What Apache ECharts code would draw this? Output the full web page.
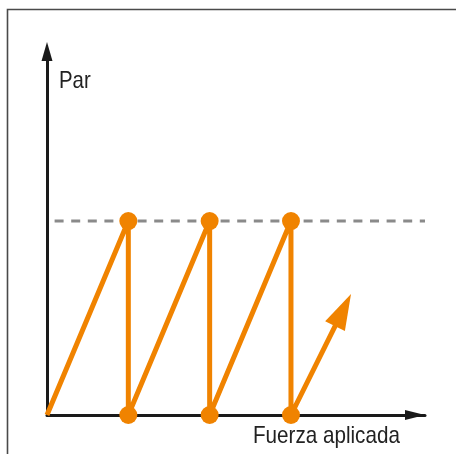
<!DOCTYPE html>
<html>
<head>
<meta charset="utf-8">
<script src="https://cdn.jsdelivr.net/npm/echarts@6/dist/echarts.min.js"></script>
<style>html,body{margin:0;padding:0;background:#fff;}#c{width:456px;height:454px;}</style>
</head>
<body>
<div id="c"></div>
<script>
// Sawtooth path: applied force (x) vs torque (y)
var sawX = [0, 1, 1, 2, 2, 3, 3, 3.64];
var sawY = [0, 1, 0, 1, 0, 1, 0, 0.541];
// Marked points (circles)
var dotX = [1, 1, 2, 2, 3, 3];
var dotY = [1, 0, 1, 0, 1, 0];
// Arrow head centre on the last segment
var arrowX = [3.64];
var arrowY = [0.541];
// Slip threshold (dashed)
var limitX = [0, 4.648];
var limitY = [1, 1];
var xAxisName = 'Fuerza aplicada';
var yAxisName = 'Par';

var ORANGE = '#F08300';
var FONT = "'Liberation Sans', Arial, sans-serif";

function zip(a, b) { return a.map(function (v, i) { return [v, b[i]]; }); }

var chart = echarts.init(document.getElementById('c'), null, {renderer: 'canvas'});
chart.setOption({
  backgroundColor: '#fff',
  animation: false,
  grid: {left: 47, bottom: 39, top: 51.5, right: 31},
  xAxis: {
    type: 'value', min: 0, max: 4.648,
    axisLine: {show: true, onZero: false, symbol: ['none', 'triangle'], symbolSize: [10, 20],
      symbolOffset: [0, -10],
      lineStyle: {color: '#1a1a1a', width: 3}},
    axisTick: {show: false}, axisLabel: {show: false}, splitLine: {show: false}
  },
  yAxis: {
    type: 'value', min: 0, max: 1.874,
    axisLine: {show: true, onZero: false, symbol: ['none', 'triangle'], symbolSize: [11, 19],
      lineStyle: {color: '#1a1a1a', width: 3}},
    axisTick: {show: false}, axisLabel: {show: false}, splitLine: {show: false}
  },
  graphic: [
    {type: 'polyline', shape: {points: [[7.5, 454], [7.5, 9.5], [456, 9.5]]},
      style: {stroke: '#4a4a4a', lineWidth: 1.6, fill: null}, z: 10},
    {type: 'text', x: 59, y: 81.5, scaleX: 0.85, style: {text: yAxisName, font: '24px ' + FONT, fill: '#222', verticalAlign: 'middle', align: 'left'}},
    {type: 'text', x: 253, y: 436, scaleX: 0.86, style: {text: xAxisName, font: '24px ' + FONT, fill: '#222', verticalAlign: 'middle', align: 'left'}}
  ],
  series: [
    {
      type: 'line', data: zip(limitX, limitY), clip: false, symbol: 'none', z: 1,
      lineStyle: {color: '#8a8a8a', width: 3, type: [9, 7.6], dashOffset: 9}
    },
    {
      type: 'line', data: zip(sawX, sawY), clip: false, symbol: 'none', z: 2,
      lineStyle: {color: ORANGE, width: 5, cap: 'butt', join: 'bevel'}
    },
    {
      type: 'scatter', data: zip(dotX, dotY), clip: false, symbol: 'circle', symbolSize: 18, z: 3,
      itemStyle: {color: ORANGE, opacity: 1}
    },
    {
      type: 'scatter', data: zip(arrowX, arrowY), clip: false, symbol: 'triangle', symbolSize: [22, 36],
      symbolRotate: -26.4, z: 3, itemStyle: {color: ORANGE, opacity: 1}
    }
  ]
});
</script>
</body>
</html>
